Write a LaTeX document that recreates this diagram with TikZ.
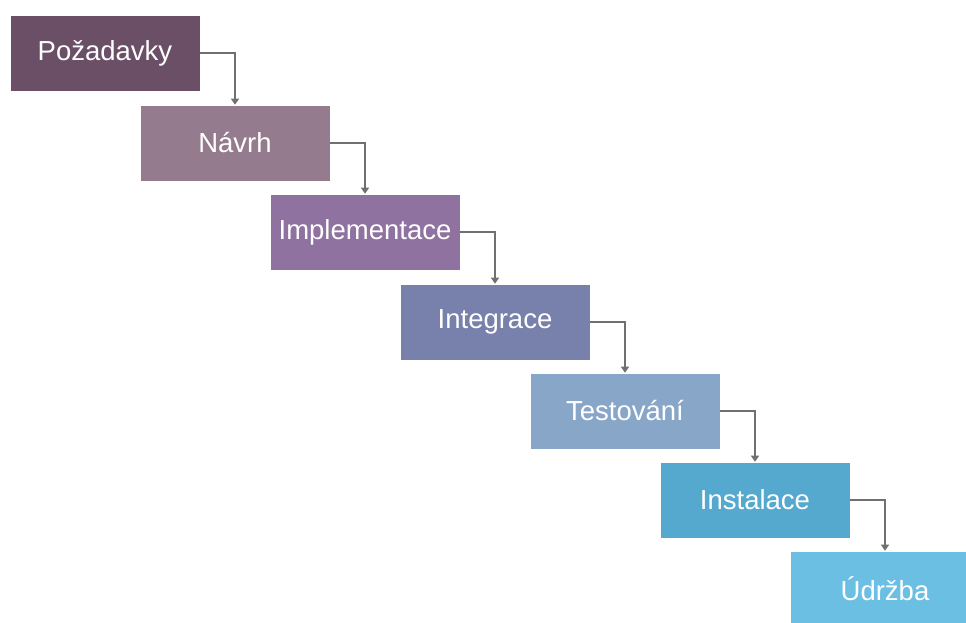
\documentclass[tikz,border=0pt]{standalone}
\usepackage{fontspec}
\setmainfont{Liberation Sans}
\usetikzlibrary{arrows.meta}
\definecolor{c1}{HTML}{6B4F66}
\definecolor{c2}{HTML}{947C8E}
\definecolor{c3}{HTML}{8F72A0}
\definecolor{c4}{HTML}{7880AC}
\definecolor{c5}{HTML}{88A6C8}
\definecolor{c6}{HTML}{55A8CE}
\definecolor{c7}{HTML}{6BBFE3}
\definecolor{arr}{HTML}{707070}
\begin{document}
\begin{tikzpicture}[x=1pt,y=-1pt,
  stage/.style={rectangle, minimum width=190pt, minimum height=76pt, inner sep=0pt,
    text=white, font=\fontsize{27.5}{32}\selectfont, draw=white, line width=0.6pt},
  conn/.style={draw=arr, line width=1.2pt, -{Triangle[width=8pt,length=6pt]}}]
\useasboundingbox (0,0) rectangle (966,623);
\clip (0,0) rectangle (966,623);
\fill[white] (0,0) rectangle (966,623);
\node[stage, fill=c1] (s1) at (105,53) {Požadavky};
\node[stage, fill=c2] (s2) at (235,143) {Návrh};
\node[stage, fill=c3] (s3) at (365,232) {Implementace};
\node[stage, fill=c4] (s4) at (495,322) {Integrace};
\node[stage, fill=c5] (s5) at (625,411) {Testování};
\node[stage, fill=c6] (s6) at (755,500) {Instalace};
\node[stage, fill=c7] (s7) at (885,589) {Údržba};
\foreach \a/\b in {s1/s2,s2/s3,s3/s4,s4/s5,s5/s6,s6/s7}
  \draw[conn] (\a.east) -| (\b.north);
\end{tikzpicture}
\end{document}
